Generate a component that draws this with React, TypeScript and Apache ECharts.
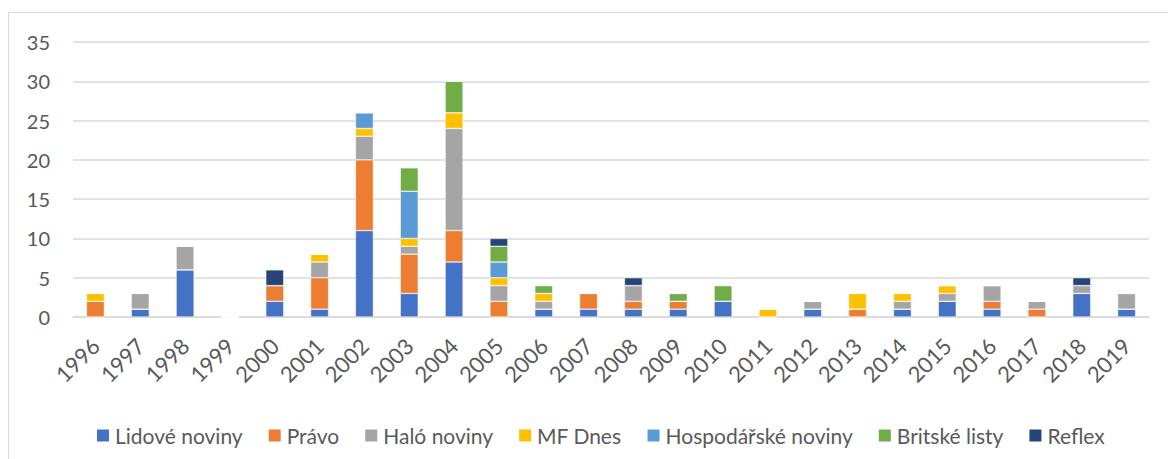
import React, { useEffect, useRef } from "react";
import * as echarts from "echarts";

const years = ["1996","1997","1998","1999","2000","2001","2002","2003","2004","2005","2006","2007","2008","2009","2010","2011","2012","2013","2014","2015","2016","2017","2018","2019"];

const lidove   = [0,1,6,0,2,1,11,3,7,0,1,1,1,1,2,0,1,0,1,2,1,0,3,1];
const pravo    = [2,0,0,0,2,4,9,5,4,2,0,2,1,1,0,0,0,1,0,0,1,1,0,0];
const halo     = [0,2,3,0,0,2,3,1,13,2,1,0,2,0,0,0,1,0,1,1,2,1,1,2];
const mfDnes   = [1,0,0,0,0,1,1,1,2,1,1,0,0,0,0,1,0,2,1,1,0,0,0,0];
const hosp     = [0,0,0,0,0,0,2,6,0,2,0,0,0,0,0,0,0,0,0,0,0,0,0,0];
const britske  = [0,0,0,0,0,0,0,3,4,2,1,0,0,1,2,0,0,0,0,0,0,0,0,0];
const reflex   = [0,0,0,0,2,0,0,0,0,1,0,0,1,0,0,0,0,0,0,0,0,0,1,0];

const seriesDefs = [
  { name: "Lidové noviny", data: lidove, color: "#4472C4" },
  { name: "Právo", data: pravo, color: "#ED7D31" },
  { name: "Haló noviny", data: halo, color: "#A5A5A5" },
  { name: "MF Dnes", data: mfDnes, color: "#FFC000" },
  { name: "Hospodářské noviny", data: hosp, color: "#5B9BD5" },
  { name: "Britské listy", data: britske, color: "#70AD47" },
  { name: "Reflex", data: reflex, color: "#264478" },
];

const FONT = "Lato, 'Open Sans', sans-serif";

export default function App() {
  const ref = useRef<HTMLDivElement>(null);
  useEffect(() => {
    if (!ref.current) return;
    const chart = echarts.init(ref.current, undefined, { renderer: "svg" });
    chart.setOption({
      animation: false,
      textStyle: { fontFamily: FONT },
      grid: { left: 73, right: 19, top: 42, bottom: 142, containLabel: false },
      legend: {
        left: 90,
        top: 420,
        itemWidth: 14,
        itemHeight: 14,
        itemGap: 24,
        icon: "rect",
        textStyle: { fontSize: 21, color: "#595959", fontFamily: FONT },
        data: seriesDefs.map((s) => s.name),
      },
      xAxis: {
        type: "category",
        data: years,
        axisLine: { lineStyle: { color: "#d9d9d9", width: 1.5 } },
        axisTick: { show: false },
        axisLabel: { rotate: 45, fontSize: 22, color: "#595959", margin: 25, interval: 0 },
      },
      yAxis: {
        type: "value",
        min: 0,
        max: 35,
        interval: 5,
        axisLine: { show: false },
        axisTick: { show: false },
        splitLine: { lineStyle: { color: "#d9d9d9", width: 1.5 } },
        axisLabel: { fontSize: 20, color: "#595959", margin: 23 },
      },
      series: seriesDefs.map((s) => ({
        name: s.name,
        type: "bar",
        stack: "total",
        barWidth: "40%",
        data: s.data,
        itemStyle: { color: s.color, borderColor: "#ffffff", borderWidth: 0.5 },
      })),
    });
    return () => chart.dispose();
  }, []);
  return (
    <div
      style={{ position: "fixed", left: 0, top: 0, width: 1168, height: 459, background: "#fff" }}
    >
      <div
        style={{
          position: "absolute",
          left: 8,
          top: 12,
          width: 1180,
          height: 460,
          border: "1.5px solid #d9d9d9",
          boxSizing: "border-box",
        }}
      />
      <div ref={ref} style={{ position: "absolute", left: 0, top: 0, width: 1168, height: 459 }} />
    </div>
  );
}
